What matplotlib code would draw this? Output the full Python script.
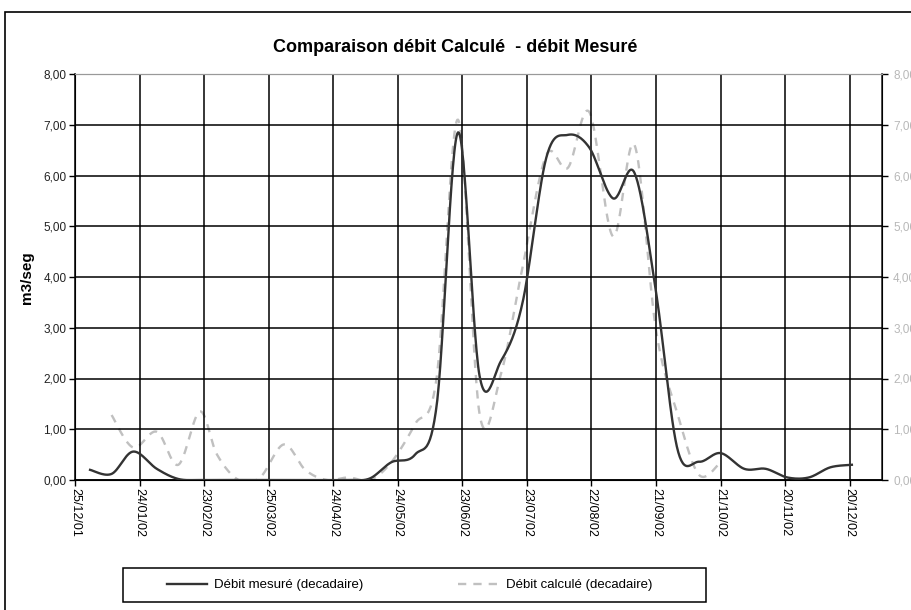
import matplotlib
matplotlib.use("Agg")
import matplotlib.pyplot as plt
from matplotlib.patches import Rectangle
import numpy as np
import pandas as pd

plt.rcParams['font.family'] = ['Liberation Sans', 'DejaVu Sans']

# Data (decadal values, m3/seg)
start = pd.Timestamp("2001-12-25")

mes_dates = ["2002-01-01", "2002-01-11", "2002-01-21", "2002-02-01", "2002-02-11", "2002-02-21",
             "2002-03-01", "2002-03-11", "2002-03-21", "2002-04-01", "2002-04-11", "2002-04-21",
             "2002-05-01", "2002-05-11", "2002-05-21", "2002-06-01", "2002-06-11", "2002-06-21",
             "2002-07-01", "2002-07-11", "2002-07-21", "2002-08-01", "2002-08-11", "2002-08-21",
             "2002-09-01", "2002-09-11", "2002-09-21", "2002-10-01", "2002-10-11", "2002-10-21",
             "2002-11-01", "2002-11-11", "2002-11-21", "2002-12-01", "2002-12-11", "2002-12-21"]
mes_values = [0.20, 0.12, 0.56, 0.22, 0.02, 0.00,
              0.00, 0.00, 0.00, 0.00, 0.00, 0.00,
              0.00, 0.03, 0.35, 0.50, 1.45, 6.85,
              2.05, 2.35, 3.50, 6.35, 6.80, 6.55,
              5.55, 6.05, 3.70, 0.60, 0.36, 0.53,
              0.22, 0.22, 0.05, 0.05, 0.25, 0.30]

calc_dates = mes_dates[1:30]
calc_values = [1.28, 0.64, 0.95, 0.30, 1.35,
               0.50, 0.00, 0.05, 0.70, 0.20, 0.00,
               0.05, 0.00, 0.35, 1.10, 2.00, 7.10,
               1.30, 2.10, 4.20, 6.40, 6.15, 7.25,
               4.80, 6.60, 2.95, 1.30, 0.10, 0.35]

tick_days = np.arange(0, 361, 30)
y_ticks = np.arange(0, 9, 1)


def days(dates):
    return np.array([(pd.Timestamp(d) - start).days for d in dates], dtype=float)


def smooth(x, y, n=30):
    # Excel-like smoothed line: cubic Bezier with Catmull-Rom control points
    px, py = [], []
    k = len(x)
    for i in range(k - 1):
        x0, y0 = (x[i - 1], y[i - 1]) if i > 0 else (x[i], y[i])
        x1, y1 = x[i], y[i]
        x2, y2 = x[i + 1], y[i + 1]
        x3, y3 = (x[i + 2], y[i + 2]) if i + 2 < k else (x2, y2)
        c1x, c1y = x1 + (x2 - x0) / 6, y1 + (y2 - y0) / 6
        c2x, c2y = x2 - (x3 - x1) / 6, y2 - (y3 - y1) / 6
        t = np.linspace(0, 1, n)
        a, b, c, d = (1 - t) ** 3, 3 * t * (1 - t) ** 2, 3 * t ** 2 * (1 - t), t ** 3
        px.extend(a * x1 + b * c1x + c * c2x + d * x2)
        py.extend(a * y1 + b * c1y + c * c2y + d * y2)
    return np.array(px), np.array(py)


fig = plt.figure(figsize=(9.12, 6.1), dpi=100)
fig.patches.append(Rectangle((5 / 912, -0.1), 1.2, 1 - 12 / 610 + 0.1, transform=fig.transFigure,
                             fill=False, edgecolor='black', lw=1.2))

ax = fig.add_axes([75 / 912, 1 - 480 / 610, 807 / 912, 406 / 610])
ax2 = ax.twinx()

mx, my = smooth(days(mes_dates), mes_values)
cx, cy = smooth(days(calc_dates), calc_values)

ax.plot(mx, my, color='#333333', lw=1.7, label='Débit mesuré (decadaire)', zorder=3)
ax2.plot(cx, cy, color='#c0c0c0', lw=1.7, dashes=(3.5, 3), label='Débit calculé (decadaire)', zorder=2)
ax.set_zorder(ax2.get_zorder() + 1)
ax.patch.set_visible(False)

for a in (ax, ax2):
    a.set_xlim(0, 375)
    a.set_ylim(0, 8)
    a.set_yticks(y_ticks)

ax.set_xticks(tick_days)
ax.set_xticklabels([(start + pd.Timedelta(days=int(d))).strftime('%d/%m/%y') for d in tick_days],
                   rotation=270, fontsize=9)
ax.set_yticklabels([f"{v:.2f}".replace('.', ',') for v in y_ticks], fontsize=8.5, color='#222222')
ax2.set_yticklabels([f"{v:.2f}".replace('.', ',') for v in y_ticks], fontsize=8.5, color='#b8b8b8')
ax.tick_params(axis='both', direction='out', length=4, width=1, pad=2)
ax2.tick_params(axis='y', direction='out', length=4, width=1, pad=4)

ax.grid(True, color='black', lw=1.1)
ax.set_axisbelow(True)

for s in ('left', 'bottom'):
    ax.spines[s].set_linewidth(1.1)
ax2.spines['right'].set_color('#333333')
ax2.spines['right'].set_linewidth(1.2)
ax.spines['top'].set_color('#999999')
ax2.spines['top'].set_color('#999999')

fig.text(27 / 912, 1 - 278 / 610, 'm3/seg', rotation=90, ha='center', va='center',
         fontsize=11, fontweight='bold')

fig.text(455 / 912, 1 - 48 / 610, 'Comparaison débit Calculé  - débit Mesuré',
         ha='center', va='center', fontsize=13, fontweight='bold')

# Legend: frameless entries inside a hand-placed box
fig.patches.append(Rectangle((123 / 912, 1 - 602 / 610), 583 / 912, 34 / 610,
                             transform=fig.transFigure, fill=False, edgecolor='black', lw=1.1))
h1, l1 = ax.get_legend_handles_labels()
h2, l2 = ax2.get_legend_handles_labels()
leg = fig.legend(h1 + h2, l1 + l2, loc='center left', bbox_to_anchor=(160 / 912, 1 - 585 / 610),
                 ncol=2, fontsize=9.5, frameon=False, handlelength=3.1,
                 columnspacing=7.2, borderpad=0, handletextpad=0.5)

fig.savefig('out.png', dpi=100)
